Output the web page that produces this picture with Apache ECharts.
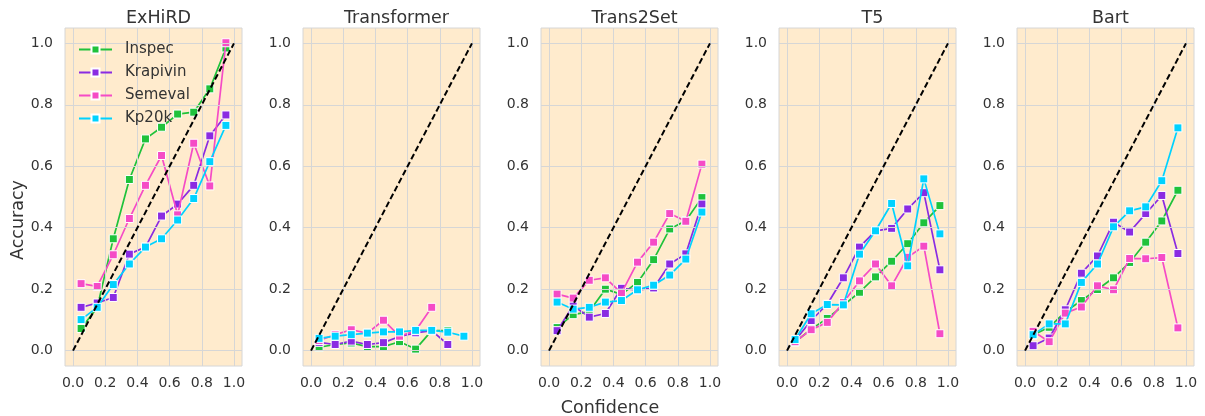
<!DOCTYPE html>
<html>
<head>
<meta charset="utf-8">
<script src="https://cdn.jsdelivr.net/npm/echarts@6/dist/echarts.min.js"></script>
<style>
html,body{margin:0;padding:0;background:#fff;}
#chart{width:1205px;height:416px;}
</style>
</head>
<body>
<div id="chart"></div>
<script>
// ---- data ----
const CONFIDENCE = [0.05, 0.15, 0.25, 0.35, 0.45, 0.55, 0.65, 0.75, 0.85, 0.95];
const MODELS = ['ExHiRD', 'Transformer', 'Trans2Set', 'T5', 'Bart'];
const DATASETS = ['Inspec', 'Krapivin', 'Semeval', 'Kp20k'];
const TICKS = [0.0, 0.2, 0.4, 0.6, 0.8, 1.0];
const DIAG = [[0, 0], [1, 1]];

const exhird_inspec   = [0.072, 0.14, 0.364, 0.557, 0.689, 0.727, 0.770, 0.776, 0.852, 0.985];
const exhird_krapivin = [0.141, 0.155, 0.173, 0.314, 0.337, 0.438, 0.477, 0.538, 0.699, 0.767];
const exhird_semeval  = [0.218, 0.209, 0.312, 0.430, 0.538, 0.635, 0.442, 0.675, 0.536, 1.002];
const exhird_kp20k    = [0.101, 0.141, 0.215, 0.282, 0.337, 0.364, 0.425, 0.495, 0.615, 0.733];

const transformer_inspec   = [0.011, 0.020, 0.025, 0.013, 0.013, 0.029, 0.005, 0.065, 0.065];
const transformer_krapivin = [0.027, 0.020, 0.031, 0.020, 0.026, 0.046, 0.058, 0.065, 0.020];
const transformer_semeval  = [0.033, 0.052, 0.068, 0.057, 0.099, 0.047, 0.065, 0.141];
const transformer_kp20k    = [0.040, 0.047, 0.052, 0.057, 0.061, 0.061, 0.066, 0.066, 0.060, 0.047];

const trans2set_inspec   = [0.075, 0.117, 0.127, 0.200, 0.183, 0.222, 0.296, 0.396, 0.423, 0.498];
const trans2set_krapivin = [0.065, 0.146, 0.109, 0.121, 0.203, 0.197, 0.204, 0.282, 0.315, 0.477];
const trans2set_semeval  = [0.184, 0.171, 0.229, 0.237, 0.187, 0.288, 0.353, 0.446, 0.421, 0.607];
const trans2set_kp20k    = [0.158, 0.135, 0.141, 0.158, 0.163, 0.198, 0.213, 0.246, 0.298, 0.451];

const t5_inspec   = [0.028, 0.070, 0.105, 0.147, 0.190, 0.240, 0.291, 0.348, 0.416, 0.472];
const t5_krapivin = [0.033, 0.098, 0.151, 0.237, 0.337, 0.390, 0.398, 0.461, 0.514, 0.263];
const t5_semeval  = [0.029, 0.068, 0.092, 0.157, 0.227, 0.282, 0.211, 0.304, 0.340, 0.055];
const t5_kp20k    = [0.036, 0.120, 0.150, 0.149, 0.314, 0.390, 0.479, 0.276, 0.559, 0.380];

const bart_inspec   = [0.051, 0.076, 0.126, 0.163, 0.199, 0.237, 0.287, 0.353, 0.422, 0.522];
const bart_krapivin = [0.016, 0.041, 0.133, 0.252, 0.308, 0.418, 0.386, 0.446, 0.505, 0.316];
const bart_semeval  = [0.063, 0.029, 0.122, 0.142, 0.211, 0.198, 0.300, 0.299, 0.303, 0.074];
const bart_kp20k    = [0.052, 0.087, 0.087, 0.222, 0.282, 0.403, 0.455, 0.468, 0.553, 0.725];

const PANEL_DATA = [
  [exhird_inspec, exhird_krapivin, exhird_semeval, exhird_kp20k],
  [transformer_inspec, transformer_krapivin, transformer_semeval, transformer_kp20k],
  [trans2set_inspec, trans2set_krapivin, trans2set_semeval, trans2set_kp20k],
  [t5_inspec, t5_krapivin, t5_semeval, t5_kp20k],
  [bart_inspec, bart_krapivin, bart_semeval, bart_kp20k]
];

// ---- styling ----
const COLORS = ['#1fc23b', '#8a2be2', '#f54bc6', '#00d2ff'];
const FONT = 'DejaVu Sans';
const TXT = '#333333';
const GRIDC = '#d6d6d6';
const PANEL_LEFT = 65, PANEL_STEP = 238, PANEL_W = 177, PANEL_TOP = 28, PANEL_H = 338;

const grids = [], xAxes = [], yAxes = [], series = [], titles = [];
const fmt = v => (Math.round(v * 10) / 10).toFixed(1);

MODELS.forEach((m, i) => {
  const left = PANEL_LEFT + PANEL_STEP * i;
  grids.push({
    left: left, top: PANEL_TOP, width: PANEL_W, height: PANEL_H,
    show: true, backgroundColor: '#FFEBCD', borderColor: GRIDC, borderWidth: 1
  });
  const axisCommon = {
    type: 'value', min: -0.05, max: 1.05,
    axisLine: {show: false}, axisTick: {show: false},
    splitLine: {show: false}
  };
  xAxes.push(Object.assign({}, axisCommon, {gridIndex: i,
    axisLabel: {color: TXT, fontFamily: FONT, fontSize: 14, formatter: fmt,
                margin: 10, customValues: TICKS}}));
  yAxes.push(Object.assign({}, axisCommon, {gridIndex: i,
    axisLabel: {color: TXT, fontFamily: FONT, fontSize: 14, formatter: fmt,
                margin: 12, customValues: TICKS}}));
  titles.push({
    text: m, left: left + PANEL_W / 2, top: 4, textAlign: 'center',
    textStyle: {color: TXT, fontFamily: FONT, fontSize: 17.5, fontWeight: 'normal'}
  });
  // grid lines at tick values
  series.push({
    name: 'grid' + i, type: 'line', xAxisIndex: i, yAxisIndex: i, data: [],
    silent: true, animation: false, z: 1,
    markLine: {
      silent: true, symbol: 'none', animation: false, label: {show: false},
      lineStyle: {color: GRIDC, width: 1, type: 'solid'},
      emphasis: {disabled: true},
      data: TICKS.map(t => ({xAxis: t})).concat(TICKS.map(t => ({yAxis: t})))
    }
  });
  PANEL_DATA[i].forEach((vals, k) => {
    series.push({
      name: DATASETS[k], type: 'line', xAxisIndex: i, yAxisIndex: i,
      data: vals.map((v, j) => [CONFIDENCE[j], v]),
      symbol: 'rect', symbolSize: 8, showSymbol: true,
      lineStyle: {color: COLORS[k], width: 1.7},
      itemStyle: {color: COLORS[k], borderColor: '#ffffff', borderWidth: 1},
      emphasis: {disabled: true}, animation: false, z: 2 + k
    });
  });
  series.push({
    name: 'diag', type: 'line', xAxisIndex: i, yAxisIndex: i,
    data: DIAG, symbol: 'none',
    lineStyle: {color: '#000000', width: 2, type: [6, 3]},
    emphasis: {disabled: true}, animation: false, z: 10
  });
});

titles.push({
  text: 'Confidence', left: 605, top: 394, textAlign: 'center',
  textStyle: {color: TXT, fontFamily: FONT, fontSize: 17.5, fontWeight: 'normal'}
});

const chart = echarts.init(document.getElementById('chart'), null, {renderer: 'canvas'});
chart.setOption({
  animation: false,
  color: COLORS,
  title: titles,
  grid: grids,
  xAxis: xAxes,
  yAxis: yAxes,
  legend: {
    data: DATASETS, orient: 'vertical', left: 73, top: 37, z: 20,
    itemWidth: 33, itemHeight: 10, itemGap: 8,
    textStyle: {color: TXT, fontFamily: FONT, fontSize: 15,
                rich: {a: {padding: [0, 0, 0, 8], fontSize: 15, fontFamily: FONT, color: TXT}}},
    formatter: n => '{a|' + n + '}'
  },
  graphic: [{
    type: 'text', x: 18, y: 220, rotation: Math.PI / 2,
    style: {text: 'Accuracy', fill: TXT, font: '17.5px "DejaVu Sans"',
            align: 'center', verticalAlign: 'middle'}
  }],
  series: series
});
</script>
</body>
</html>
